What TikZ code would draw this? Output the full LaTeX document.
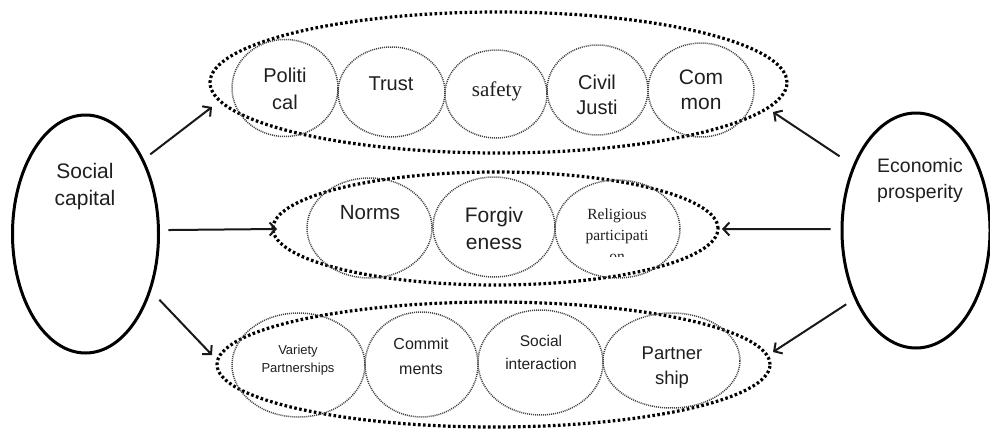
\documentclass[tikz,border=0pt]{standalone}
\usepackage{fontspec}
\setmainfont{Liberation Sans}
\newfontfamily\seriffont{Liberation Serif}
\usetikzlibrary{shapes.geometric,arrows.meta}
\tikzset{
  mainell/.style={ellipse, draw=black, line width=3pt, inner sep=0pt},
  groupell/.style={ellipse, draw=black, line width=3.2pt, dash pattern=on 2.6pt off 2.4pt, inner sep=0pt},
  itemell/.style={ellipse, draw=black!75, line width=1.5pt, dash pattern=on 1pt off 1pt, inner sep=0pt},
  txt/.style={align=center, text=black!88, inner sep=0pt},
  arr/.style={draw=black!90, line width=2pt, -{Straight Barb[length=6pt,width=13pt,line width=2pt]}},
}
\newcommand{\fs}[2]{\fontsize{#1}{#2}\selectfont}
\begin{document}
\begin{tikzpicture}[x=1pt,y=-1pt]
\useasboundingbox (0,0) rectangle (990,434);
% main ellipses
\node[mainell, minimum width=146, minimum height=238] (sc) at (85.5,234) {};
\node[mainell, minimum width=148, minimum height=235] (ep) at (916,230.5) {};
\node[txt, font=\fs{21}{27}] (sct) at (85,187) {Social\\capital};
\node[txt, font=\fs{19.5}{26}] (ept) at (920,180) {Economic\\prosperity};
% group ellipses
\node[groupell, minimum width=577, minimum height=141] (g1) at (498.5,82.5) {};
\node[groupell, minimum width=445, minimum height=113] (g2) at (495.5,228.5) {};
\node[groupell, minimum width=553, minimum height=125] (g3) at (493.5,364.5) {};
% top row
\node[itemell, minimum width=106, minimum height=97] (pol) at (285,88) {};
\node[itemell, minimum width=107, minimum height=90] (tru) at (391.5,92) {};
\node[itemell, minimum width=102, minimum height=88] (saf) at (496,94) {};
\node[itemell, minimum width=101, minimum height=90] (civ) at (597.5,90) {};
\node[itemell, minimum width=106, minimum height=94] (com) at (701,90) {};
\node[txt, font=\fs{20}{27}] (polt) at (285,89) {Politi\\cal};
\node[txt, font=\fs{20}{27}] (trut) at (391,84) {Trust};
\node[txt, font=\seriffont\fs{21}{26}] (saft) at (497,91) {safety};
\node[txt, font=\fs{20}{25}] (civt) at (597,95) {Civil\\Justi};
\node[txt, font=\fs{21}{25}] (comt) at (701,90) {Com\\mon};
% middle row
\node[itemell, minimum width=125, minimum height=100] (nor) at (369.5,228) {};
\node[itemell, minimum width=122, minimum height=100] (forg) at (494,227) {};
\node[itemell, minimum width=125, minimum height=98] (rel) at (617.5,229) {};
\node[txt, font=\fs{20.5}{26}] (nort) at (370,213) {Norms};
\node[txt, font=\fs{21}{27}] (forgt) at (494,228) {Forgiv\\eness};
\begin{scope}
\clip (560,195) rectangle (680,256);
\node[txt, font=\seriffont\fs{15.5}{21}] (relt) at (617,235) {Religious\\participati\\on};
\end{scope}
% bottom row
\node[itemell, minimum width=133, minimum height=104] (var) at (298.5,365) {};
\node[itemell, minimum width=113, minimum height=105] (comm) at (421.5,364.5) {};
\node[itemell, minimum width=125, minimum height=105] (soc) at (540.5,362.5) {};
\node[itemell, minimum width=137, minimum height=95] (par) at (671.5,360.5) {};
\node[txt, font=\fs{13}{18}] (vart) at (298,360) {Variety\\Partnerships};
\node[txt, font=\fs{16}{25}] (commt) at (421,356) {Commit\\ments};
\node[txt, font=\fs{15.5}{23}] (soct) at (541,352) {Social\\interaction};
\node[txt, font=\fs{18.5}{25}] (part) at (672,368) {Partner\\ship};
% arrow targets on the group ellipses
\coordinate (g1l) at (212,107);
\coordinate (g2l) at (277,229);
\coordinate (g3l) at (212,355);
\coordinate (g1r) at (773,112);
\coordinate (g2r) at (722,229);
\coordinate (g3r) at (773,352);
% arrows
\draw[arr, shorten <=8pt] (sc.52.8) -- (g1l);
\draw[arr, shorten <=8.5pt] (sc.3.5) -- (g2l);
\draw[arr, shorten <=12pt] (sc.-41) -- (g3l);
\draw[arr, shorten <=16pt] (ep.134) -- (g1r);
\draw[arr, shorten <=10pt] (ep.179) -- (g2r);
\draw[arr, shorten <=9.6pt] (ep.228) -- (g3r);
\end{tikzpicture}
\end{document}
